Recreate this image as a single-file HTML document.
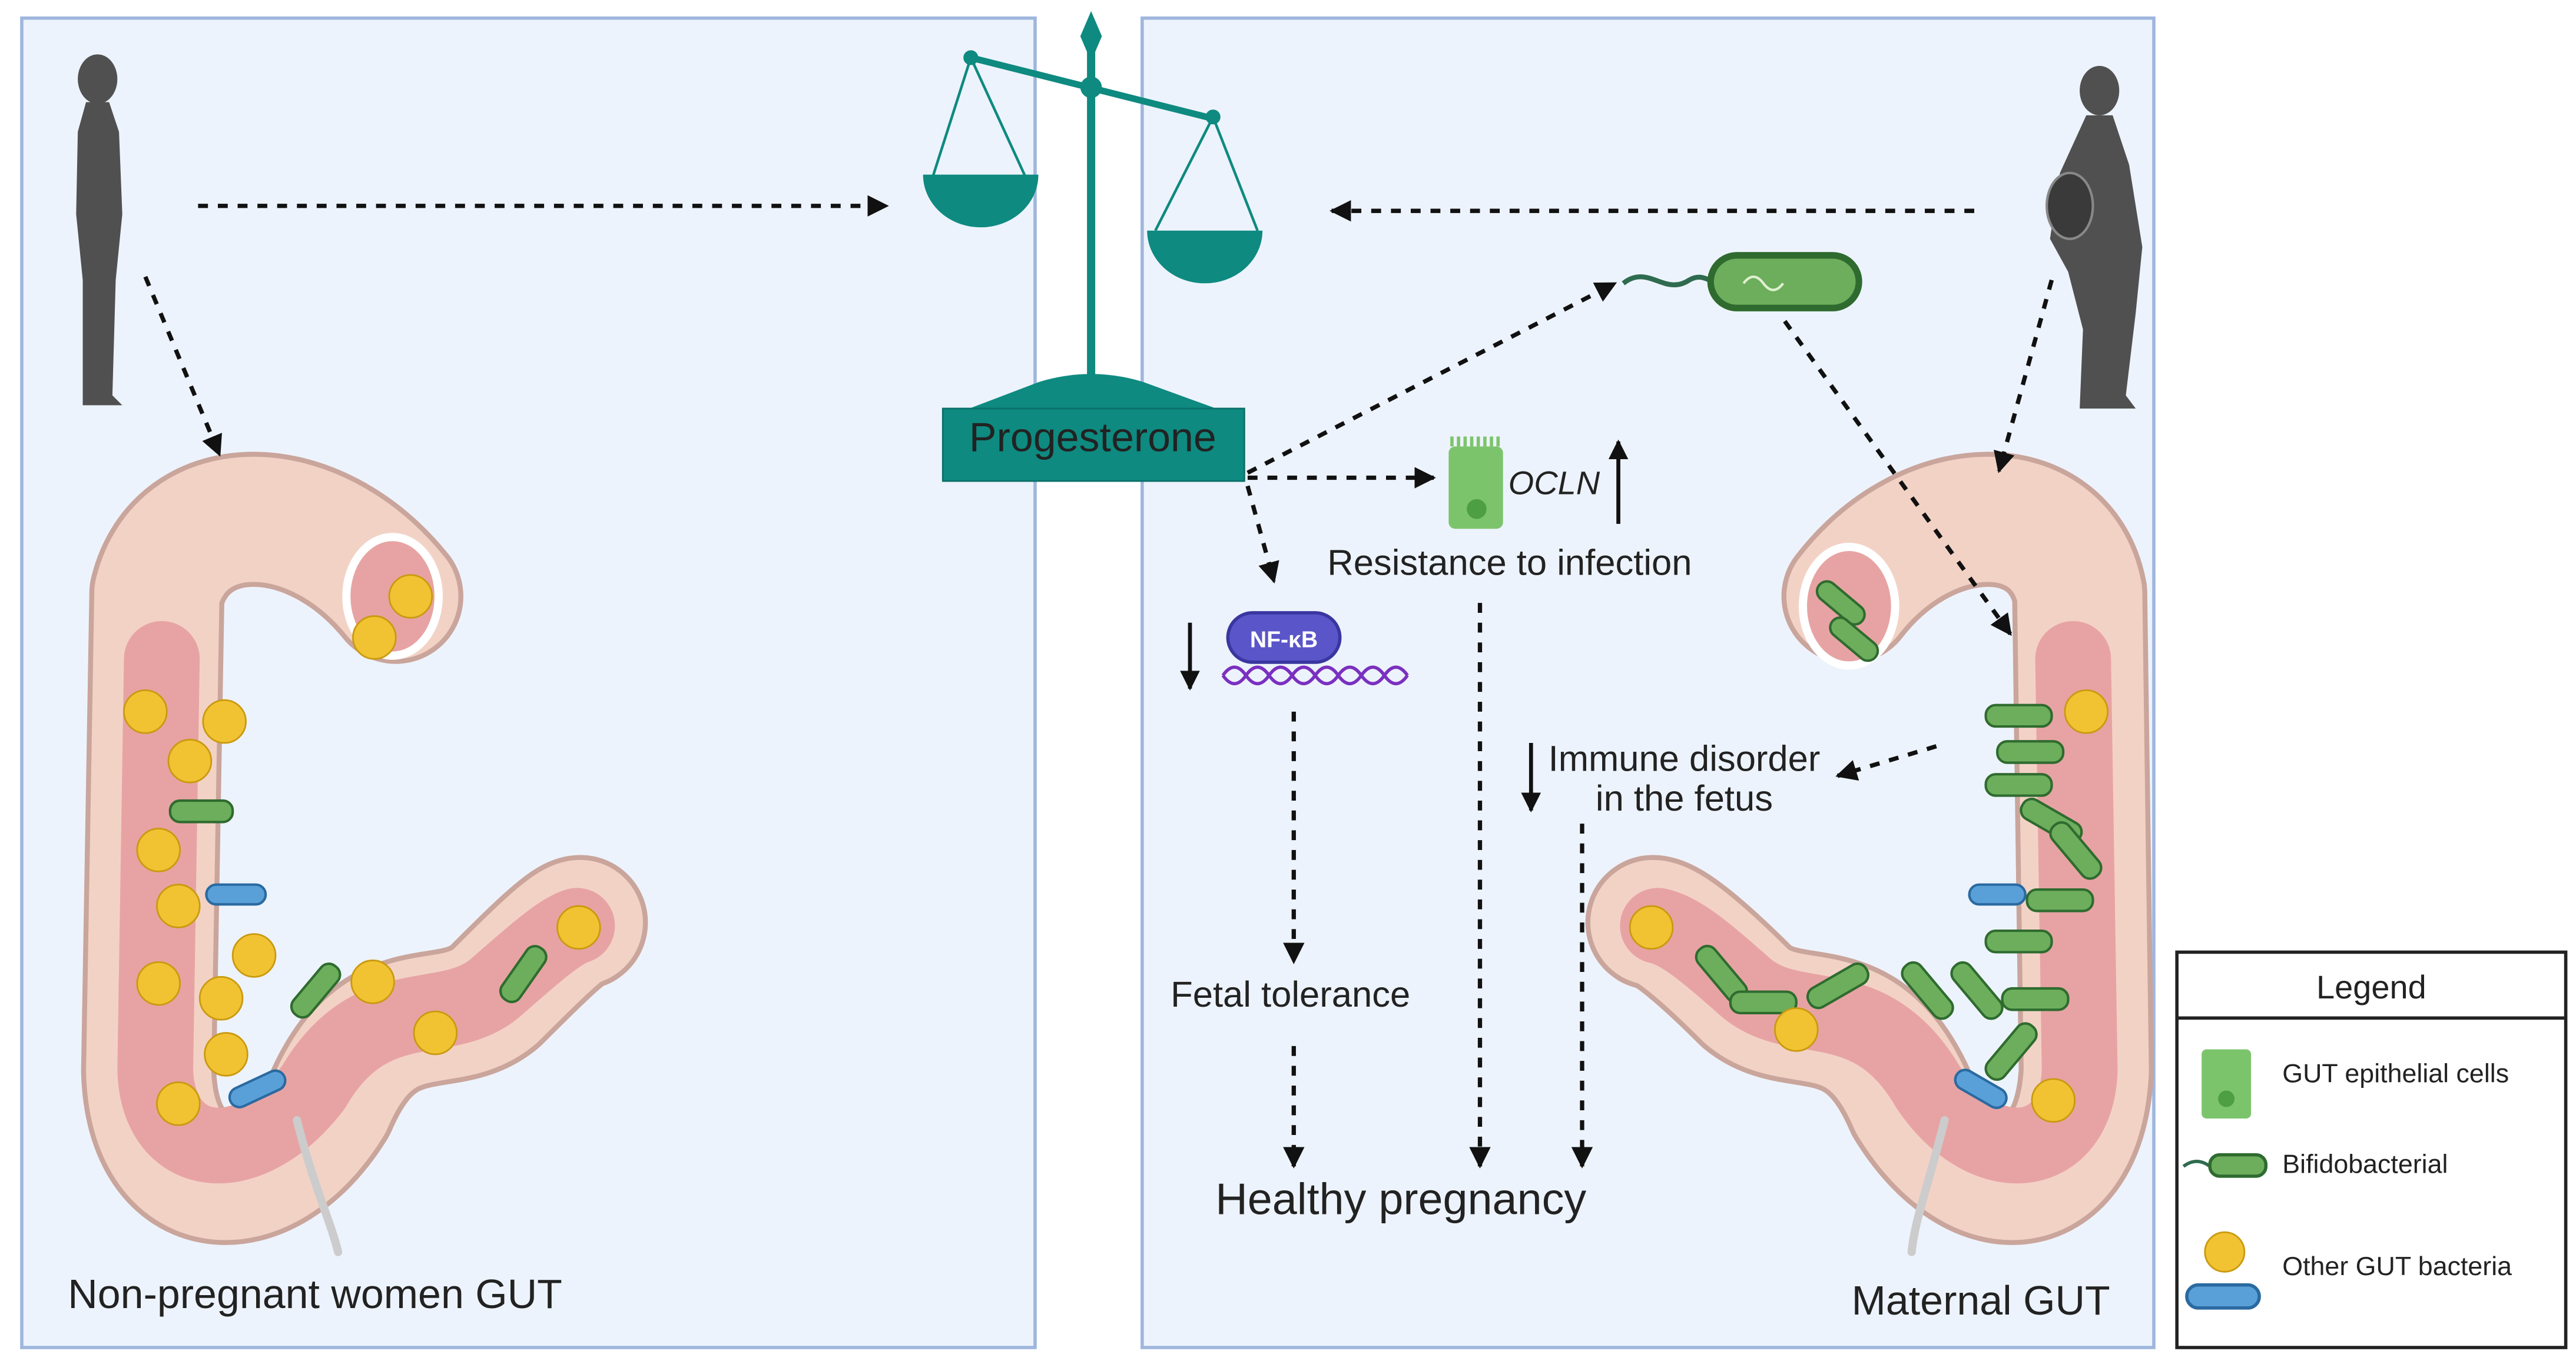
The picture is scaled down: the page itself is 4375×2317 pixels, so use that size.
<!DOCTYPE html>
<html><head><meta charset="utf-8"><style>
html,body{margin:0;padding:0;background:#fff}
svg{display:block}
text{font-family:"Liberation Sans",sans-serif;fill:#222}
</style></head><body>
<svg width="4375" height="2317" viewBox="0 0 1563 828" xmlns="http://www.w3.org/2000/svg">
<defs>
<marker id="a" viewBox="0 0 10 10" refX="9" refY="5" markerWidth="5" markerHeight="5" orient="auto"><path d="M0,0 L10,5 L0,10 z" fill="#111"/></marker>
</defs>
<rect width="1563" height="828" fill="#fff"/>
<rect x="13" y="11" width="615" height="807" fill="#edf3fc" stroke="#9fb6de" stroke-width="2"/>
<rect x="693" y="11" width="614" height="807" fill="#edf3fc" stroke="#9fb6de" stroke-width="2"/>

<!-- scale -->
<g fill="#0e8a80" stroke="#0e8a80">
<line x1="662" y1="20" x2="662" y2="232" stroke-width="5"/>
<path d="M662 8 L668 22 L662 36 L656 22 Z"/>
<line x1="589" y1="35" x2="736" y2="72" stroke-width="4"/>
<circle cx="662" cy="53" r="6"/><circle cx="589" cy="35" r="4"/><circle cx="736" cy="71" r="4"/>
<path d="M589 35 L566 107 M589 35 L622 107 M736 71 L701 140 M736 71 L763 140" stroke-width="1.6" fill="none"/>
<path d="M560 106 L630 106 A35 32 0 0 1 560 106 Z" stroke="none"/>
<path d="M696 140 L766 140 A35 32 0 0 1 696 140 Z" stroke="none"/>
<path d="M588 248 L630 232 Q662 222 694 232 L738 248 Z" stroke="none"/>
<rect x="572" y="248" width="183" height="44" fill="#0e8a80" stroke="#0a7069"/>
</g>
<text x="663" y="274" font-size="25" text-anchor="middle" fill="#111">Progesterone</text>

<!-- silhouettes -->
<g fill="#505050">
<ellipse cx="59" cy="48" rx="12" ry="15"/>
<path d="M52 62 L66 62 L72 80 L74 130 L70 170 L68 240 L74 246 L50 246 L50 170 L46 130 L47 80 Z"/>
<ellipse cx="1274" cy="55" rx="12" ry="15"/>
<path d="M1266 70 L1282 70 L1292 100 L1300 150 L1296 190 L1290 240 L1296 248 L1262 248 L1264 200 L1255 165 L1244 145 L1250 105 Z"/>
<ellipse cx="1256" cy="125" rx="14" ry="20" fill="#3a3a3a" stroke="#888" stroke-width="1.5"/>
</g>

<!-- left gut -->
<g fill="none" stroke-linecap="round" stroke-linejoin="round">
<path d="M240 362 C190 300 110 300 95 360 L90 650 C92 730 160 735 200 670 C230 600 270 630 300 605 C325 580 345 560 352 560" stroke="#c9a59c" stroke-width="82"/>
<path d="M240 362 C190 300 110 300 95 360 L90 650 C92 730 160 735 200 670 C230 600 270 630 300 605 C325 580 345 560 352 560" stroke="#f3d2c6" stroke-width="76"/>
<path d="M98 400 L94 650 C96 705 150 712 190 660 C225 600 270 625 300 600 C325 578 340 565 350 562" stroke="#e7a3a3" stroke-width="46"/>
<path d="M180 680 C190 720 200 740 205 760" stroke="#ccc" stroke-width="5"/>
<ellipse cx="238" cy="362" rx="28" ry="36" fill="#e7a3a3" stroke="#fff" stroke-width="5"/>
</g>
<g fill="#f1c232" stroke="#c99a10" stroke-width="1">
<circle cx="249" cy="362" r="13"/><circle cx="227" cy="387" r="13"/>
<circle cx="88" cy="432" r="13"/><circle cx="136" cy="438" r="13"/><circle cx="115" cy="462" r="13"/>
<circle cx="96" cy="516" r="13"/><circle cx="108" cy="550" r="13"/><circle cx="154" cy="580" r="13"/>
<circle cx="96" cy="597" r="13"/><circle cx="134" cy="606" r="13"/><circle cx="137" cy="640" r="13"/>
<circle cx="108" cy="670" r="13"/><circle cx="226" cy="596" r="13"/><circle cx="264" cy="627" r="13"/><circle cx="351" cy="563" r="13"/>
</g>
<g fill="#6cae5c" stroke="#2f6b2f" stroke-width="1.5">
<rect x="103" y="486" width="38" height="13" rx="6"/>
<rect x="172" y="595" width="38" height="13" rx="6" transform="rotate(-50 191 601)"/>
<rect x="298" y="585" width="38" height="13" rx="6" transform="rotate(-55 317 591)"/>
<rect x="125" y="537" width="36" height="12" rx="6" fill="#5aa0d8" stroke="#2a6aa0"/>
<rect x="138" y="655" width="36" height="12" rx="6" fill="#5aa0d8" stroke="#2a6aa0" transform="rotate(-25 156 661)"/>
</g>

<!-- right gut -->
<g fill="none" stroke-linecap="round" stroke-linejoin="round">
<path d="M1122 362 C1170 300 1250 300 1262 360 L1266 650 C1262 730 1200 735 1160 670 C1130 600 1090 630 1060 605 C1035 580 1012 560 1003 560" stroke="#c9a59c" stroke-width="82"/>
<path d="M1122 362 C1170 300 1250 300 1262 360 L1266 650 C1262 730 1200 735 1160 670 C1130 600 1090 630 1060 605 C1035 580 1012 560 1003 560" stroke="#f3d2c6" stroke-width="76"/>
<path d="M1258 400 L1262 650 C1260 705 1205 712 1170 660 C1135 600 1090 625 1060 600 C1035 578 1020 565 1006 562" stroke="#e7a3a3" stroke-width="46"/>
<path d="M1180 680 C1170 720 1162 740 1160 760" stroke="#ccc" stroke-width="5"/>
<ellipse cx="1122" cy="368" rx="28" ry="36" fill="#e7a3a3" stroke="#fff" stroke-width="5"/>
</g>
<g fill="#6cae5c" stroke="#2f6b2f" stroke-width="1.5">
<rect x="1100" y="360" width="34" height="12" rx="6" transform="rotate(40 1117 366)"/>
<rect x="1108" y="382" width="34" height="12" rx="6" transform="rotate(40 1125 388)"/>
<rect x="1205" y="428" width="40" height="13" rx="6"/><rect x="1212" y="450" width="40" height="13" rx="6"/>
<rect x="1205" y="470" width="40" height="13" rx="6"/><rect x="1225" y="492" width="40" height="13" rx="6" transform="rotate(30 1245 498)"/>
<rect x="1230" y="540" width="40" height="13" rx="6"/><rect x="1240" y="510" width="40" height="13" rx="6" transform="rotate(50 1260 516)"/>
<rect x="1205" y="565" width="40" height="13" rx="6"/><rect x="1215" y="600" width="40" height="13" rx="6"/>
<rect x="1150" y="595" width="40" height="13" rx="6" transform="rotate(50 1170 601)"/>
<rect x="1180" y="595" width="40" height="13" rx="6" transform="rotate(50 1200 601)"/>
<rect x="1025" y="585" width="40" height="13" rx="6" transform="rotate(50 1045 591)"/>
<rect x="1050" y="602" width="40" height="13" rx="6"/><rect x="1095" y="592" width="40" height="13" rx="6" transform="rotate(-30 1115 598)"/>
<rect x="1200" y="632" width="40" height="13" rx="6" transform="rotate(-50 1220 638)"/>
<rect x="1195" y="537" width="34" height="12" rx="6" fill="#5aa0d8" stroke="#2a6aa0"/>
<rect x="1185" y="655" width="34" height="12" rx="6" fill="#5aa0d8" stroke="#2a6aa0" transform="rotate(30 1202 661)"/>
</g>
<g fill="#f1c232" stroke="#c99a10"><circle cx="1266" cy="432" r="13"/><circle cx="1002" cy="563" r="13"/><circle cx="1090" cy="625" r="13"/><circle cx="1246" cy="668" r="13"/></g>

<!-- bifido top -->
<path d="M985 172 C1000 160 1010 180 1025 170 C1032 166 1036 170 1040 171" stroke="#2f6b4f" stroke-width="3" fill="none"/>
<rect x="1038" y="155" width="90" height="32" rx="16" fill="#6cae5c" stroke="#2f6b2f" stroke-width="4"/>
<path d="M1058 172 q6 -8 12 0 q6 8 12 0" stroke="#e0f0d0" stroke-width="1.5" fill="none"/>

<!-- epithelial cell -->
<rect x="879" y="271" width="33" height="50" rx="4" fill="#7cc46c"/>
<circle cx="896" cy="309" r="6" fill="#4e9e44"/>
<path d="M881 271 v-6 M885 271 v-6 M889 271 v-6 M893 271 v-6 M897 271 v-6 M901 271 v-6 M905 271 v-6 M909 271 v-6" stroke="#7cc46c" stroke-width="2"/>

<!-- NF-kB -->
<path d="M742 410 q7 -10 14 0 t14 0 t14 0 t14 0 t14 0 t14 0 t14 0 t14 0" stroke="#7a30c0" stroke-width="2" fill="none"/>
<path d="M742 410 q7 10 14 0 t14 0 t14 0 t14 0 t14 0 t14 0 t14 0 t14 0" stroke="#7a30c0" stroke-width="2" fill="none"/>
<rect x="745" y="372" width="68" height="30" rx="15" fill="#5a55c8" stroke="#3a36a0" stroke-width="2"/>
<text x="779" y="393" font-size="14" font-weight="bold" text-anchor="middle" style="fill:#fff">NF-κB</text>

<!-- dashed arrows -->
<g stroke="#111" stroke-width="2.6" stroke-dasharray="6,6" fill="none" marker-end="url(#a)">
<line x1="120" y1="125" x2="538" y2="125"/>
<line x1="88" y1="168" x2="133" y2="276"/>
<line x1="1198" y1="128" x2="808" y2="128"/>
<line x1="757" y1="287" x2="980" y2="172"/>
<line x1="757" y1="290" x2="870" y2="290"/>
<line x1="757" y1="295" x2="773" y2="353"/>
<line x1="1083" y1="195" x2="1220" y2="385"/>
<line x1="1245" y1="170" x2="1213" y2="286"/>
<line x1="1175" y1="453" x2="1115" y2="471"/>
<line x1="785" y1="432" x2="785" y2="584"/>
<line x1="785" y1="635" x2="785" y2="708"/>
<line x1="898" y1="366" x2="898" y2="708"/>
<line x1="960" y1="500" x2="960" y2="708"/>
</g>
<g stroke="#111" stroke-width="2.4" fill="none" marker-end="url(#a)">
<line x1="982" y1="318" x2="982" y2="268"/>
<line x1="722" y1="378" x2="722" y2="418"/>
<line x1="929" y1="451" x2="929" y2="492"/>
</g>

<text x="943" y="300" font-size="20" font-style="italic" text-anchor="middle">OCLN</text>
<text x="916" y="349" font-size="22" text-anchor="middle">Resistance to infection</text>
<text x="1022" y="468" font-size="22" text-anchor="middle">Immune disorder</text>
<text x="1022" y="492" font-size="22" text-anchor="middle">in the fetus</text>
<text x="783" y="611" font-size="22" text-anchor="middle">Fetal tolerance</text>
<text x="850" y="737" font-size="27" text-anchor="middle">Healthy pregnancy</text>
<text x="191" y="794" font-size="25" text-anchor="middle">Non-pregnant women GUT</text>
<text x="1202" y="798" font-size="25" text-anchor="middle">Maternal GUT</text>

<!-- legend -->
<rect x="1321" y="578" width="236" height="240" fill="#fff" stroke="#222" stroke-width="2"/>
<line x1="1321" y1="618" x2="1557" y2="618" stroke="#222" stroke-width="2"/>
<text x="1439" y="606" font-size="20" text-anchor="middle">Legend</text>
<rect x="1336" y="637" width="30" height="42" rx="3" fill="#7cc46c"/>
<circle cx="1351" cy="667" r="5" fill="#4e9e44"/>
<text x="1385" y="657" font-size="16">GUT epithelial cells</text>
<path d="M1325 708 q8 -6 16 0" stroke="#2f6b4f" stroke-width="2" fill="none"/>
<rect x="1341" y="701" width="34" height="13" rx="6" fill="#6cae5c" stroke="#2f6b2f" stroke-width="2"/>
<text x="1385" y="712" font-size="16">Bifidobacterial</text>
<circle cx="1350" cy="760" r="12" fill="#f1c232" stroke="#c99a10"/>
<rect x="1327" y="780" width="44" height="14" rx="7" fill="#5aa0d8" stroke="#2a6aa0" stroke-width="2"/>
<text x="1385" y="774" font-size="16">Other GUT bacteria</text>
</svg>
</body></html>
